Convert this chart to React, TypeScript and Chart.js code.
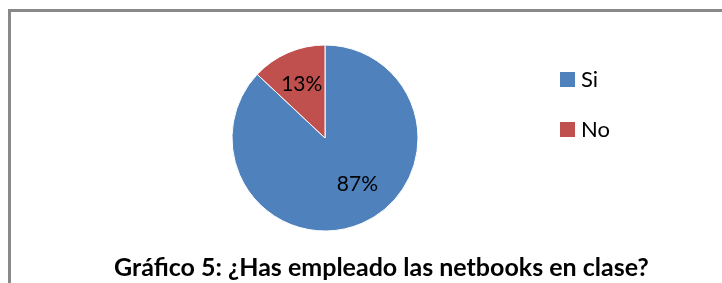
import React, { useEffect, useRef } from "react";
import { Chart, registerables } from "chart.js";

Chart.register(...registerables);

const categories = ["Si", "No"];
const values = [87, 13];
const sliceColors = ["#4F81BD", "#C0504D"];
const titleText = "Gráfico 5: ¿Has empleado las netbooks en clase?";

// label placement tweaks (fraction of radius, angle offset in radians)
const labelRadius = [0.61, 0.63];
const labelAngleOffset = [-0.2, 0];

const FONT = "Lato";
const LEGEND_FONT_SIZE = 22;
const LEGEND_PAD = 28;
const LEGEND_BOX_W = 5;
const CHART_RIGHT = 537;

function swatch(color: string) {
  const c = document.createElement("canvas");
  c.width = 15;
  c.height = 16;
  const g = c.getContext("2d")!;
  g.fillStyle = color;
  g.fillRect(0, 0, 15, 15);
  return c;
}

const pctLabels = {
  id: "pctLabels",
  afterDatasetsDraw(chart: any) {
    const meta = chart.getDatasetMeta(0);
    const data = chart.data.datasets[0].data as number[];
    const total = data.reduce((a, b) => a + b, 0);
    const ctx = chart.ctx;
    ctx.save();
    ctx.font = `21px ${FONT}`;
    ctx.fillStyle = "#000";
    ctx.textAlign = "center";
    ctx.textBaseline = "middle";
    meta.data.forEach((arc: any, i: number) => {
      const p = arc.getProps(["x", "y", "startAngle", "endAngle", "outerRadius"], true);
      const mid = (p.startAngle + p.endAngle) / 2 + labelAngleOffset[i];
      const r = p.outerRadius * labelRadius[i];
      const txt = Math.round((data[i] / total) * 100) + "%";
      ctx.fillText(txt, p.x + Math.cos(mid) * r, p.y + Math.sin(mid) * r);
    });
    ctx.restore();
  },
};

export default function App() {
  const ref = useRef<HTMLCanvasElement>(null);

  useEffect(() => {
    document.body.style.margin = "0";
    const canvas = ref.current!;
    const chart: any = new Chart(canvas, {
      type: "pie",
      data: {
        labels: categories,
        datasets: [
          {
            data: values,
            backgroundColor: sliceColors,
            borderColor: "#ffffff",
            borderWidth: 1,
            radius: 93,
          },
        ],
      },
      options: {
        responsive: false,
        animation: false,
        layout: {
          padding: { left: 113, top: 41, bottom: 48, right: 110 },
        },
        plugins: {
          tooltip: { enabled: false },
          title: { display: false },
          legend: {
            position: "right",
            align: "start",
            fullSize: false,
            labels: {
              usePointStyle: true,
              pointStyleWidth: LEGEND_BOX_W,
              padding: LEGEND_PAD,
              color: "#000",
              font: { family: FONT, size: LEGEND_FONT_SIZE },
              generateLabels: () =>
                categories.map((c, i) => ({
                  text: c,
                  fillStyle: sliceColors[i],
                  strokeStyle: sliceColors[i],
                  lineWidth: 0,
                  pointStyle: swatch(sliceColors[i]),
                  hidden: false,
                  index: i,
                })),
            },
          },
        },
      },
      plugins: [pctLabels],
    });
    // second pass: put the legend's left edge (= chart area right) where wanted
    const lw = chart.legend.width;
    chart.options.layout.padding.right = 722 - CHART_RIGHT - lw;
    chart.update();
    return () => chart.destroy();
  }, []);

  return (
    <div style={{ position: "relative", width: 722, height: 283, overflow: "hidden", background: "#fff" }}>
      <style>{`body{margin:0}`}</style>
      <div
        style={{
          position: "absolute",
          left: 8,
          top: 9,
          width: 711,
          height: 271,
          borderTop: "3px solid #898989",
          borderLeft: "3px solid #898989",
        }}
      />
      <canvas ref={ref} width={722} height={283} style={{ position: "absolute", left: 0, top: 0 }} />
      <div
        style={{
          position: "absolute",
          left: 0,
          width: 763,
          top: 254,
          textAlign: "center",
          fontFamily: FONT,
          fontWeight: "bold",
          fontSize: 25,
          lineHeight: "25px",
          color: "#000",
          whiteSpace: "nowrap",
        }}
      >
        {titleText}
      </div>
    </div>
  );
}
